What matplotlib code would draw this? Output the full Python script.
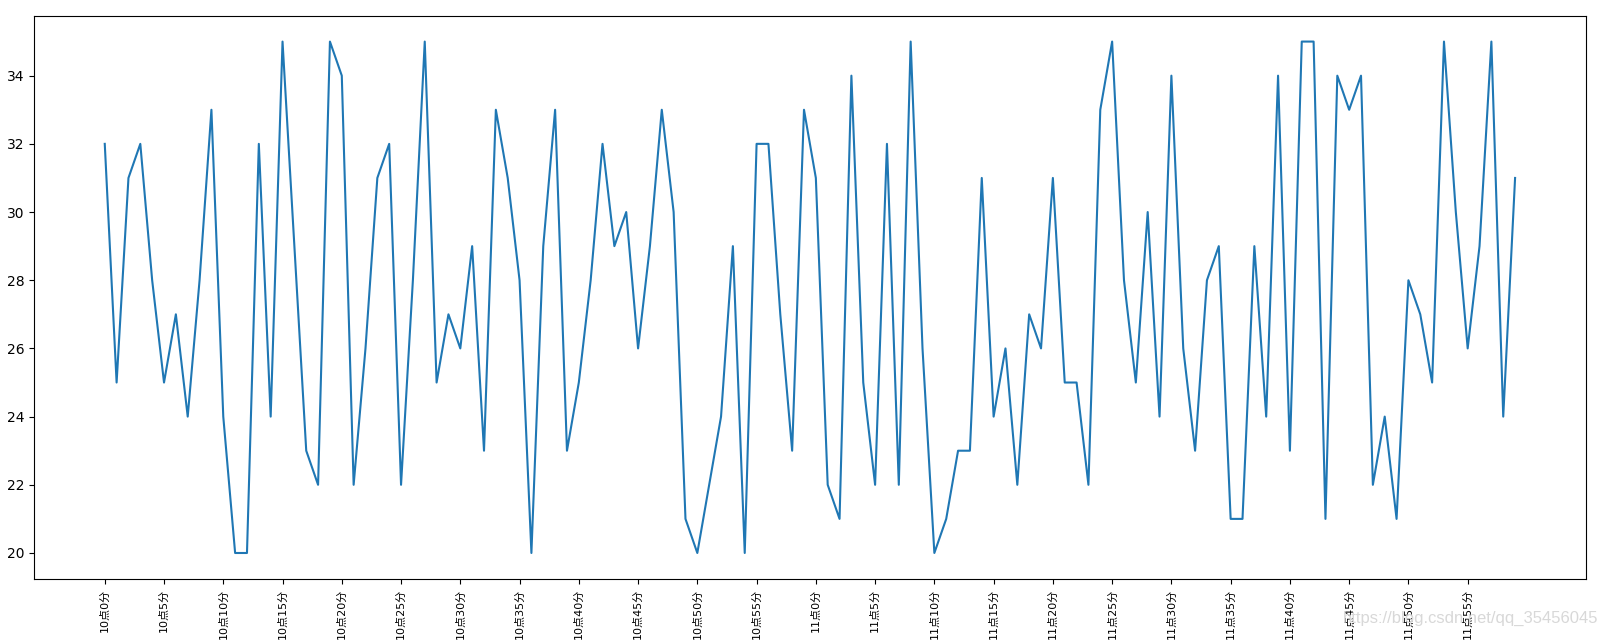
import matplotlib
matplotlib.use('Agg')
import matplotlib.pyplot as plt

# one reading per minute, 10:00 .. 11:59
hours = [10] * 60 + [11] * 60
minutes = list(range(60)) * 2
values = [32, 25, 31, 32, 28, 25, 27, 24, 28, 33,
          24, 20, 20, 32, 24, 35, 29, 23, 22, 35,
          34, 22, 26, 31, 32, 22, 28, 35, 25, 27,
          26, 29, 23, 33, 31, 28, 20, 29, 33, 23,
          25, 28, 32, 29, 30, 26, 29, 33, 30, 21,
          20, 22, 24, 29, 20, 32, 32, 27, 23, 33,
          31, 22, 21, 34, 25, 22, 32, 22, 35, 26,
          20, 21, 23, 23, 31, 24, 26, 22, 27, 26,
          31, 25, 25, 22, 33, 35, 28, 25, 30, 24,
          34, 26, 23, 28, 29, 21, 21, 29, 24, 34,
          23, 35, 35, 21, 34, 33, 34, 22, 24, 21,
          28, 27, 25, 35, 30, 26, 29, 35, 24, 31]

labels = ["%d点%d分" % (h, m) for h, m in zip(hours, minutes)]


def main():
    fig = plt.figure(figsize=(16, 6.4), dpi=100)
    ax = fig.add_axes([0.0214, 0.096, 0.9696, 0.879])
    x = list(range(len(values)))
    ax.plot(x, values)
    ax.set_xticks(x[::5])
    # CJK glyphs are wider than digits, so a slightly smaller size keeps them on the page
    ax.set_xticklabels(labels[::5], rotation=90, fontsize=8,
                       family=['DejaVu Sans', 'Noto Sans CJK SC'])

    # blog watermark at the bottom right
    fig.text(0.8395, 0.027, "https://blog.csdn.net/qq_35456045",
             family='Liberation Sans', fontsize=12, color='#d8d8d8')

    fig.savefig("out.png", dpi=100)


if __name__ == '__main__':
    main()
